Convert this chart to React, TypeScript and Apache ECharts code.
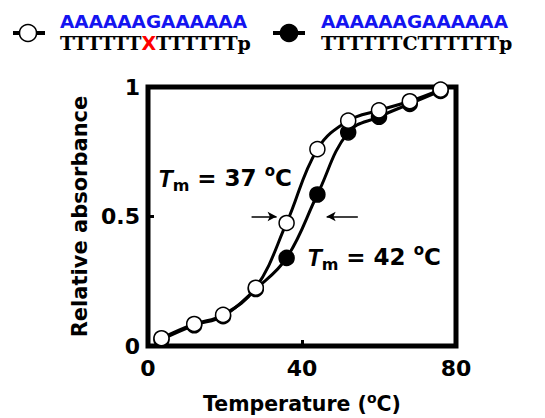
import React, { useEffect, useRef } from "react";
import * as echarts from "echarts";

const temps = [3.5, 12, 19.5, 28, 36, 44, 52, 60, 68, 76];
const mismatchX = [0.03, 0.085, 0.12, 0.225, 0.475, 0.76, 0.87, 0.91, 0.945, 0.99];
const matchC = [0.025, 0.08, 0.115, 0.22, 0.34, 0.585, 0.825, 0.885, 0.935, 0.985];
const xTicks = [0, 40, 80];
const yTicks = [0, 0.5, 1];
const topStrand = "AAAAAAGAAAAAA";
const bottomMismatch = ["TTTTTT", "X", "TTTTTTp"];
const bottomMatch = "TTTTTTCTTTTTTp";
const tm1 = 37;
const tm2 = 42;

const SANS = "DejaVu Sans";
const SERIF = "DejaVu Serif";

function tmText(v: number) {
  return `{T|T}{m|m}{n| = ${v} }{o|o}{n|C}`;
}

const tmRich = {
  T: { fontFamily: "Liberation Sans", fontStyle: "italic", fontWeight: "bold", fontSize: 24, lineHeight: 30, fill: "#000", color: "#000" },
  m: { fontFamily: SANS, fontWeight: "bold", fontSize: 16, lineHeight: 16, verticalAlign: "bottom", fill: "#000", color: "#000" },
  n: { fontFamily: SANS, fontWeight: "bold", fontSize: 23, lineHeight: 30, fill: "#000", color: "#000" },
  o: { fontFamily: SANS, fontWeight: "bold", fontSize: 15, lineHeight: 18, verticalAlign: "top", fill: "#000", color: "#000" },
};

const legendRich = {
  a: { fill: "#1414f0", fontFamily: SANS, fontWeight: "bold", fontSize: 18.5, lineHeight: 21 },
  t: { fill: "#000", fontFamily: SERIF, fontWeight: "bold", fontSize: 19, lineHeight: 21 },
  x: { fill: "#ff0000", fontFamily: SANS, fontWeight: "bold", fontSize: 19, lineHeight: 21 },
};

export default function App() {
  const ref = useRef<HTMLDivElement>(null);
  useEffect(() => {
    if (!ref.current) return;
    const chart = echarts.init(ref.current, null, { renderer: "svg" });
    const seriesOpen = temps.map((t, i) => [t, mismatchX[i]]);
    const seriesFilled = temps.map((t, i) => [t, matchC[i]]);
    chart.setOption({
      animation: false,
      backgroundColor: "#fff",
      grid: {
        left: 148,
        right: 89,
        top: 87,
        bottom: 72,
        show: true,
        containLabel: false,
        outerBoundsMode: "none",
        borderColor: "#000",
        borderWidth: 5,
        backgroundColor: "transparent",
      },
      xAxis: {
        type: "value",
        min: xTicks[0],
        max: xTicks[xTicks.length - 1],
        interval: 40,
        axisLine: { show: false },
        splitLine: { show: false },
        axisTick: { show: true, inside: true, length: 6, lineStyle: { color: "#000", width: 3 } },
        axisLabel: {
          margin: 11,
          fontFamily: SANS,
          fontWeight: "bold",
          fontSize: 22,
          color: "#000",
        },
        name: "Temperature ({o|o}C)",
        nameLocation: "middle",
        nameGap: 45,
        nameTextStyle: {
          fontFamily: SANS,
          fontWeight: "bold",
          fontSize: 20.5,
          color: "#000",
          lineHeight: 26,
          rich: {
            o: { fontFamily: SANS, fontWeight: "bold", fontSize: 14, lineHeight: 16, verticalAlign: "top", color: "#000" },
          },
        },
      },
      yAxis: {
        type: "value",
        min: yTicks[0],
        max: yTicks[yTicks.length - 1],
        interval: 0.5,
        axisLine: { show: false },
        splitLine: { show: false },
        axisTick: { show: true, inside: true, length: 6, lineStyle: { color: "#000", width: 3 } },
        axisLabel: {
          margin: 8,
          fontFamily: SANS,
          fontWeight: "bold",
          fontSize: 22,
          color: "#000",
          formatter: (v: number) => String(v),
        },
        name: "Relative absorbance",
        nameLocation: "middle",
        nameGap: 57,
        nameRotate: 90,
        nameTextStyle: {
          fontFamily: SANS,
          fontWeight: "bold",
          fontSize: 21,
          color: "#000",
        },
      },
      series: [
        {
          name: "match",
          type: "line",
          data: seriesFilled,
          smooth: 0.4,
          symbol: "circle",
          symbolSize: 15,
          lineStyle: { color: "#000", width: 3 },
          itemStyle: { color: "#000", borderColor: "#000", borderWidth: 1.5 },
          z: 2,
        },
        {
          name: "mismatch",
          type: "line",
          data: seriesOpen,
          smooth: 0.4,
          symbol: "circle",
          symbolSize: 15,
          lineStyle: { color: "#000", width: 3 },
          itemStyle: { color: "#fff", borderColor: "#000", borderWidth: 1.5 },
          z: 3,
          markLine: {
            silent: true,
            symbol: ["none", "arrow"],
            symbolSize: [7, 9],
            lineStyle: { color: "#000", width: 1.5, type: "solid" },
            label: { show: false },
            data: [
              [{ coord: [26.9, 0.5] }, { coord: [33.4, 0.5] }],
              [{ coord: [54.5, 0.5] }, { coord: [46.4, 0.5] }],
            ],
          },
        },
      ],
      graphic: [
        { type: "line", shape: { x1: 13, y1: 33, x2: 45, y2: 33 }, style: { stroke: "#000", lineWidth: 4 } },
        { type: "circle", shape: { cx: 28, cy: 33, r: 8.5 }, style: { fill: "#fff", stroke: "#000", lineWidth: 1.5 } },
        { type: "line", shape: { x1: 273, y1: 33, x2: 305, y2: 33 }, style: { stroke: "#000", lineWidth: 4 } },
        { type: "circle", shape: { cx: 289, cy: 33, r: 8.5 }, style: { fill: "#000", stroke: "#000", lineWidth: 1.5 } },
        {
          type: "text",
          x: 60,
          y: 32,
          style: {
            text: `{a|${topStrand}}\n{t|${bottomMismatch[0]}}{x|${bottomMismatch[1]}}{t|${bottomMismatch[2]}}`,
            verticalAlign: "middle",
            rich: legendRich,
          },
        },
        {
          type: "text",
          x: 321,
          y: 32,
          style: {
            text: `{a|${topStrand}}\n{t|${bottomMatch}}`,
            verticalAlign: "middle",
            rich: legendRich,
          },
        },
        {
          type: "text",
          x: 158,
          y: 178,
          z: 10,
          style: { text: tmText(tm1), rich: tmRich, verticalAlign: "middle", fill: "#000" },
        },
        {
          type: "text",
          x: 307,
          y: 257,
          z: 10,
          style: { text: tmText(tm2), rich: tmRich, verticalAlign: "middle", fill: "#000" },
        },
      ],
    });
    return () => chart.dispose();
  }, []);
  return <div ref={ref} style={{ position: "fixed", left: 0, top: 0, width: 545, height: 418 }} />;
}
